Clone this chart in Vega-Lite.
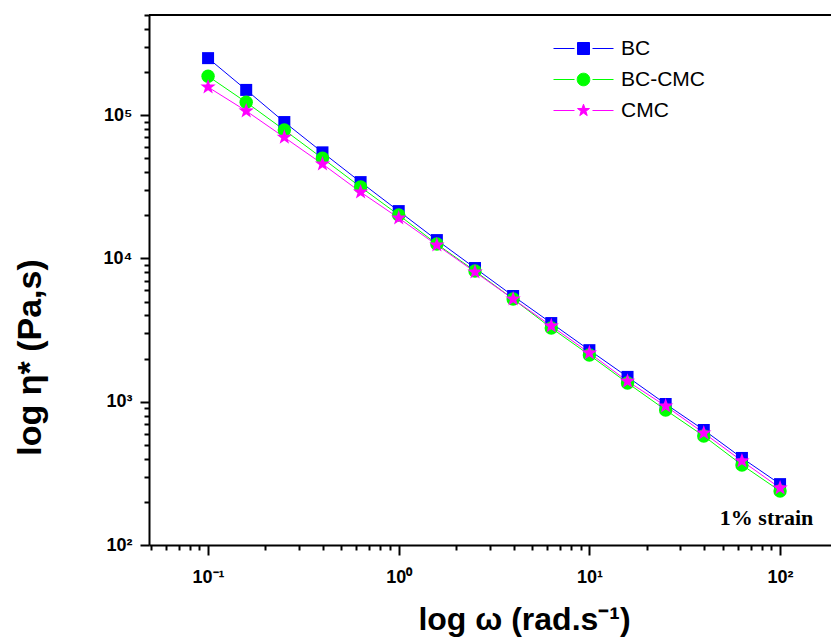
{
  "$schema": "https://vega.github.io/schema/vega-lite/v6.json",
  "autosize": "none",
  "width": 682,
  "height": 530,
  "padding": {"left": 149, "top": 15, "right": 0, "bottom": 92},
  "background": "white",
  "config": {"view": {"stroke": null}, "font": "Liberation Sans"},
  "data": {"values": [
    {"w": 0.1, "eta": 250000, "series": "BC"},
    {"w": 0.1585, "eta": 150000, "series": "BC"},
    {"w": 0.2512, "eta": 89500, "series": "BC"},
    {"w": 0.3981, "eta": 55000, "series": "BC"},
    {"w": 0.631, "eta": 34100, "series": "BC"},
    {"w": 1, "eta": 21400, "series": "BC"},
    {"w": 1.585, "eta": 13430, "series": "BC"},
    {"w": 2.512, "eta": 8570, "series": "BC"},
    {"w": 3.981, "eta": 5470, "series": "BC"},
    {"w": 6.31, "eta": 3540, "series": "BC"},
    {"w": 10, "eta": 2290, "series": "BC"},
    {"w": 15.85, "eta": 1490, "series": "BC"},
    {"w": 25.12, "eta": 964, "series": "BC"},
    {"w": 39.81, "eta": 635, "series": "BC"},
    {"w": 63.1, "eta": 405, "series": "BC"},
    {"w": 100, "eta": 266, "series": "BC"},
    {"w": 0.1, "eta": 187000, "series": "BC-CMC"},
    {"w": 0.1585, "eta": 123000, "series": "BC-CMC"},
    {"w": 0.2512, "eta": 78700, "series": "BC-CMC"},
    {"w": 0.3981, "eta": 50000, "series": "BC-CMC"},
    {"w": 0.631, "eta": 31500, "series": "BC-CMC"},
    {"w": 1, "eta": 20100, "series": "BC-CMC"},
    {"w": 1.585, "eta": 12600, "series": "BC-CMC"},
    {"w": 2.512, "eta": 8170, "series": "BC-CMC"},
    {"w": 3.981, "eta": 5210, "series": "BC-CMC"},
    {"w": 6.31, "eta": 3270, "series": "BC-CMC"},
    {"w": 10, "eta": 2120, "series": "BC-CMC"},
    {"w": 15.85, "eta": 1350, "series": "BC-CMC"},
    {"w": 25.12, "eta": 875, "series": "BC-CMC"},
    {"w": 39.81, "eta": 576, "series": "BC-CMC"},
    {"w": 63.1, "eta": 362, "series": "BC-CMC"},
    {"w": 100, "eta": 238, "series": "BC-CMC"},
    {"w": 0.1, "eta": 157000, "series": "CMC"},
    {"w": 0.1585, "eta": 107000, "series": "CMC"},
    {"w": 0.2512, "eta": 70000, "series": "CMC"},
    {"w": 0.3981, "eta": 45600, "series": "CMC"},
    {"w": 0.631, "eta": 29050, "series": "CMC"},
    {"w": 1, "eta": 19140, "series": "CMC"},
    {"w": 1.585, "eta": 12400, "series": "CMC"},
    {"w": 2.512, "eta": 8040, "series": "CMC"},
    {"w": 3.981, "eta": 5210, "series": "CMC"},
    {"w": 6.31, "eta": 3380, "series": "CMC"},
    {"w": 10, "eta": 2190, "series": "CMC"},
    {"w": 15.85, "eta": 1390, "series": "CMC"},
    {"w": 25.12, "eta": 933, "series": "CMC"},
    {"w": 39.81, "eta": 605, "series": "CMC"},
    {"w": 63.1, "eta": 386, "series": "CMC"},
    {"w": 100, "eta": 250, "series": "CMC"}
  ]},
  "encoding": {
    "x": {
      "field": "w", "type": "quantitative",
      "scale": {"type": "log", "domain": [0.049, 185], "nice": false},
      "axis": {
        "orient": "bottom",
        "values": [0.05,0.06,0.07,0.08,0.09,0.1,0.2,0.3,0.4,0.5,0.6,0.7,0.8,0.9,1,2,3,4,5,6,7,8,9,10,20,30,40,50,60,70,80,90,100],
        "labelExpr": "abs(log(datum.value)/LN10 - round(log(datum.value)/LN10)) < 0.01 ? '10' + ['⁻¹','⁰','¹','²','³','⁴','⁵'][round(log(datum.value)/LN10)+1] : ''",
        "tickSize": {"condition": {"test": "abs(log(datum.value)/LN10 - round(log(datum.value)/LN10)) < 0.01", "value": 10}, "value": 5},
        "tickWidth": 2, "tickColor": "black",
        "domainWidth": 2, "domainColor": "black",
        "grid": false,
        "labelFont": "Liberation Sans", "labelFontWeight": "bold", "labelFontSize": 18, "labelColor": "black",
        "labelPadding": 13, "labelFlush": false, "labelOverlap": false,
        "title": "log ω (rad.s⁻¹)",
        "titleFont": "Liberation Sans", "titleFontSize": 32, "titleFontWeight": "bold", "titleColor": "black",
        "titleX": 375, "titleY": 84, "titleAlign": "center", "titleBaseline": "alphabetic"
      }
    },
    "y": {
      "field": "eta", "type": "quantitative",
      "scale": {"type": "log", "domain": [100, 500000], "nice": false},
      "axis": {
        "orient": "left",
        "values": [100,200,300,400,500,600,700,800,900,1000,2000,3000,4000,5000,6000,7000,8000,9000,10000,20000,30000,40000,50000,60000,70000,80000,90000,100000,200000,300000,400000,500000],
        "labelExpr": "abs(log(datum.value)/LN10 - round(log(datum.value)/LN10)) < 0.01 ? '10' + ['⁻¹','⁰','¹','²','³','⁴','⁵'][round(log(datum.value)/LN10)+1] : ''",
        "tickSize": {"condition": {"test": "abs(log(datum.value)/LN10 - round(log(datum.value)/LN10)) < 0.01", "value": 9}, "value": 5},
        "tickWidth": 2, "tickColor": "black",
        "domainWidth": 2, "domainColor": "black",
        "grid": false,
        "labelFont": "Liberation Sans", "labelFontWeight": "bold", "labelFontSize": 18, "labelColor": "black",
        "labelPadding": 8, "labelFlush": false, "labelOverlap": false,
        "title": "log η*  (Pa,s)",
        "titleFont": "Liberation Sans", "titleFontSize": 34, "titleFontWeight": "bold", "titleColor": "black",
        "titleX": -119, "titleY": 342, "titleAlign": "center", "titleBaseline": "middle", "titleAngle": -90
      }
    }
  },
  "layer": [
    {
      "data": {"values": [{"top": 500000}]},
      "mark": {"type": "rule", "stroke": "black", "strokeWidth": 2},
      "encoding": {"x": null, "y": {"field": "top", "type": "quantitative"}}
    },
    {
      "transform": [{"filter": "datum.series === 'BC'"}],
      "mark": {"type": "line", "strokeWidth": 1, "color": "#0000ff"}
    },
    {
      "transform": [{"filter": "datum.series === 'BC-CMC'"}],
      "mark": {"type": "line", "strokeWidth": 1, "color": "#00ff00"}
    },
    {
      "transform": [{"filter": "datum.series === 'CMC'"}],
      "mark": {"type": "line", "strokeWidth": 1, "color": "#ff00ff"}
    },
    {
      "transform": [{"filter": "datum.series === 'BC'"}],
      "mark": {"type": "point", "shape": "square", "filled": true, "opacity": 1, "size": 144, "color": "#0000ff"}
    },
    {
      "transform": [{"filter": "datum.series === 'BC-CMC'"}],
      "mark": {"type": "point", "shape": "circle", "filled": true, "opacity": 1, "size": 180, "color": "#00ff00"}
    },
    {
      "transform": [{"filter": "datum.series === 'CMC'"}],
      "mark": {"type": "point", "shape": "M0,-1L0.2351,-0.3236L0.9511,-0.309L0.3804,0.1236L0.5878,0.809L0,0.4L-0.5878,0.809L-0.3804,0.1236L-0.9511,-0.309L-0.2351,-0.3236Z", "filled": true, "opacity": 1, "size": 260, "color": "#ff00ff"}
    },
    {
      "mark": {"type": "point", "opacity": 0, "strokeWidth": 1},
      "encoding": {
        "fill": {"field": "series", "type": "nominal",
          "scale": {"domain": ["BC", "BC-CMC", "CMC"], "range": ["#0000ff", "#00ff00", "#ff00ff"]},
          "legend": {
            "title": null, "orient": "none", "legendX": 419, "legendY": 18,
            "padding": 0, "rowPadding": 5, "symbolSize": 900, "symbolOpacity": 1, "symbolStrokeWidth": 1,
            "labelOffset": 22, "labelFont": "Liberation Sans", "labelFontSize": 21, "labelColor": "black", "labelLimit": 300
          }},
        "stroke": {"field": "series", "type": "nominal",
          "scale": {"domain": ["BC", "BC-CMC", "CMC"], "range": ["#0000ff", "#00ff00", "#ff00ff"]},
          "legend": {
            "title": null, "orient": "none", "legendX": 419, "legendY": 18,
            "padding": 0, "rowPadding": 5, "symbolSize": 900, "symbolOpacity": 1, "symbolStrokeWidth": 1,
            "labelOffset": 22, "labelFont": "Liberation Sans", "labelFontSize": 21, "labelColor": "black", "labelLimit": 300
          }},
        "shape": {"field": "series", "type": "nominal",
          "scale": {"domain": ["BC", "BC-CMC", "CMC"], "range": [
            "M-2,0H-0.6M0.6,0H2M-0.4,-0.4H0.4V0.4H-0.4Z",
            "M-2,0H-0.6M0.6,0H2M0.42,0A0.42,0.42 0 1,1 -0.42,0A0.42,0.42 0 1,1 0.42,0Z",
            "M-2,0H-0.6M0.6,0H2M0,-0.42L0.0987,-0.1359L0.3995,-0.1298L0.1598,0.0519L0.2469,0.3398L0,0.168L-0.2469,0.3398L-0.1598,0.0519L-0.3995,-0.1298L-0.0987,-0.1359Z"
          ]},
          "legend": {
            "title": null, "orient": "none", "legendX": 419, "legendY": 18,
            "padding": 0, "rowPadding": 5, "symbolSize": 900, "symbolOpacity": 1, "symbolStrokeWidth": 1,
            "labelOffset": 22, "labelFont": "Liberation Sans", "labelFontSize": 21, "labelColor": "black", "labelLimit": 300
          }
        }
      }
    },
    {
      "data": {"values": [{"w": 85, "eta": 154, "label": "1% strain"}]},
      "mark": {"type": "text", "font": "Liberation Serif", "fontWeight": "bold", "fontSize": 22, "align": "center", "baseline": "middle", "color": "black"},
      "encoding": {"text": {"field": "label"}}
    }
  ]
}
